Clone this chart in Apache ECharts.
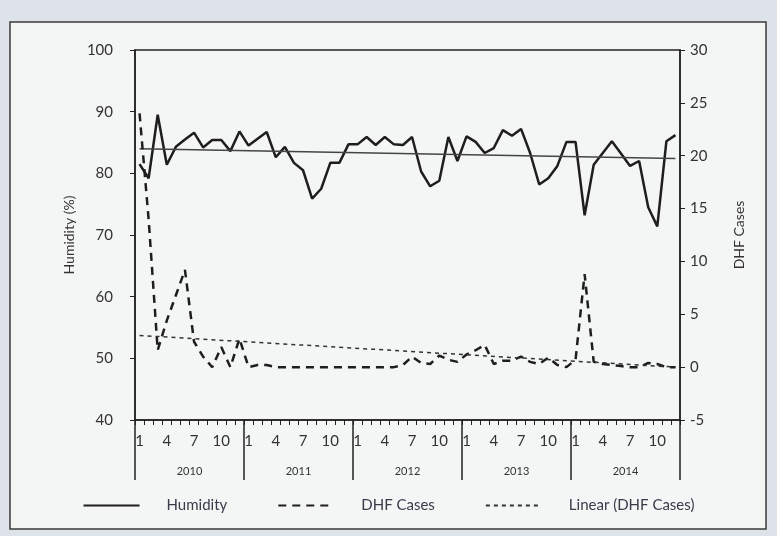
<!DOCTYPE html>
<html><head><meta charset="utf-8">
<script src="https://cdn.jsdelivr.net/npm/echarts@6/dist/echarts.min.js"></script>
<style>html,body{margin:0;padding:0;background:#dde3e8;}#c{width:777px;height:536px;}</style>
</head><body><div id="c"></div>
<script>
const years = ['2010', '2011', '2012', '2013', '2014'];
const monthLabels = ['1','2','3','4','5','6','7','8','9','10','11','12'];
const humidity = [
  81.5, 79.2, 89.5, 81.4, 84.3, 85.5, 86.6, 84.2, 85.4, 85.4, 83.6, 86.8,
  84.5, 85.6, 86.7, 82.6, 84.3, 81.7, 80.5, 75.9, 77.5, 81.7, 81.7, 84.7,
  84.7, 85.9, 84.6, 85.9, 84.7, 84.6, 85.9, 80.3, 77.9, 78.8, 85.9, 82.0,
  86.0, 85.1, 83.3, 84.1, 87.0, 86.1, 87.2, 83.3, 78.2, 79.2, 81.2, 85.1,
  85.1, 73.2, 81.4, 83.3, 85.2, 83.2, 81.2, 82.0, 74.5, 71.4, 85.2, 86.2
];
const dhfCases = [
  24, 14, 1.6, 4.4, 6.8, 9.2, 2.4, 1.0, 0, 1.9, 0, 2.7,
  0, 0.2, 0.2, 0, 0, 0, 0, 0, 0, 0, 0, 0,
  0, 0, 0, 0, 0, 0.2, 1.0, 0.4, 0.3, 1.1, 0.7, 0.5,
  1.2, 1.6, 2.1, 0.3, 0.6, 0.6, 1.0, 0.5, 0.3, 0.9, 0.2, 0,
  0.7, 8.8, 0.5, 0.3, 0.2, 0.1, 0, 0, 0.4, 0.3, 0, 0
];
// trend line end values (first month, last month)
const humidityTrendEnds = [84.0, 82.4];
const dhfTrendEnds = [3.0, 0.0];
const leftTicks = {min: 40, max: 100, interval: 10};
const rightTicks = {min: -5, max: 30, interval: 5};

const categories = [];
years.forEach(() => monthLabels.forEach(m => categories.push(m)));
function endsSeries(ends) {
  const arr = categories.map(() => null);
  arr[0] = ends[0];
  arr[arr.length - 1] = ends[1];
  return arr;
}

const font = 'Lato, "Open Sans", "DejaVu Sans", sans-serif';
const chart = echarts.init(document.getElementById('c'));
chart.setOption({
  animation: false,
  textStyle: {fontFamily: font, color: '#333'},
  graphic: [{
    type: 'rect', z: -10,
    shape: {x: 10, y: 22, width: 756, height: 507},
    style: {fill: '#f4f5f5', stroke: '#3a3a3a', lineWidth: 1.5}
  }],
  grid: {left: 135, right: 97, top: 50, bottom: 116, show: true,
         borderColor: '#222', borderWidth: 1.5, backgroundColor: 'transparent'},
  legend: {
    data: ['Humidity', 'DHF Cases', 'Linear (DHF Cases)'],
    bottom: 18, left: 'center', itemWidth: 56, itemHeight: 10, itemGap: 50,
    itemStyle: {opacity: 0},
    textStyle: {fontSize: 15, color: '#3a3a4a', fontFamily: font, padding: [0, 0, 0, 22]}
  },
  xAxis: [{
    type: 'category', data: categories, boundaryGap: true, position: 'bottom',
    axisLine: {onZero: false, lineStyle: {color: '#222', width: 1.5}},
    axisTick: {show: true, interval: 0, length: 5, lineStyle: {color: '#222'}},
    axisLabel: {interval: (i) => i % 3 === 0, margin: 14, fontSize: 15, color: '#333'},
    splitLine: {show: false}
  }, {
    type: 'category', data: years, boundaryGap: true, position: 'bottom',
    axisLine: {show: false, onZero: false},
    axisTick: {show: true, interval: 0, length: 60, lineStyle: {color: '#222', width: 1.5}},
    axisLabel: {margin: 46, fontSize: 11, color: '#333'},
    splitLine: {show: false}
  }],
  yAxis: [{
    type: 'value', position: 'left', min: leftTicks.min, max: leftTicks.max, interval: leftTicks.interval,
    name: 'Humidity (%)', nameLocation: 'middle', nameRotate: 90, nameGap: 46,
    nameTextStyle: {fontSize: 14, color: '#333'},
    axisLine: {show: true, onZero: false, lineStyle: {color: '#222', width: 1.5}},
    axisTick: {show: true, length: 5, lineStyle: {color: '#222'}},
    axisLabel: {fontSize: 15, margin: 22, color: '#333'},
    splitLine: {show: false}
  }, {
    type: 'value', position: 'right', min: rightTicks.min, max: rightTicks.max, interval: rightTicks.interval,
    name: 'DHF Cases', nameLocation: 'middle', nameRotate: 90, nameGap: 52,
    nameTextStyle: {fontSize: 14, color: '#333'},
    axisLine: {show: true, onZero: false, lineStyle: {color: '#222', width: 1.5}},
    axisTick: {show: true, length: 5, lineStyle: {color: '#222'}},
    axisLabel: {fontSize: 15, margin: 10, color: '#333'},
    splitLine: {show: false}
  }],
  series: [{
    name: 'Humidity', type: 'line', data: humidity, yAxisIndex: 0, xAxisIndex: 0,
    symbol: 'none', lineStyle: {color: '#1e1e1e', width: 2.5}, itemStyle: {color: '#1e1e1e'}
  }, {
    name: 'Humidity trend', type: 'line', data: endsSeries(humidityTrendEnds), connectNulls: true,
    yAxisIndex: 0, symbol: 'none', lineStyle: {color: '#444', width: 1.5}
  }, {
    name: 'DHF Cases', type: 'line', data: dhfCases, yAxisIndex: 1,
    symbol: 'none', lineStyle: {color: '#1e1e1e', width: 2.5, type: [8, 6]}, itemStyle: {color: '#1e1e1e'}
  }, {
    name: 'Linear (DHF Cases)', type: 'line', data: endsSeries(dhfTrendEnds), connectNulls: true,
    yAxisIndex: 1, symbol: 'none', lineStyle: {color: '#333', width: 1.5, type: [4, 4]}, itemStyle: {color: '#333'}
  }]
});
</script></body></html>
